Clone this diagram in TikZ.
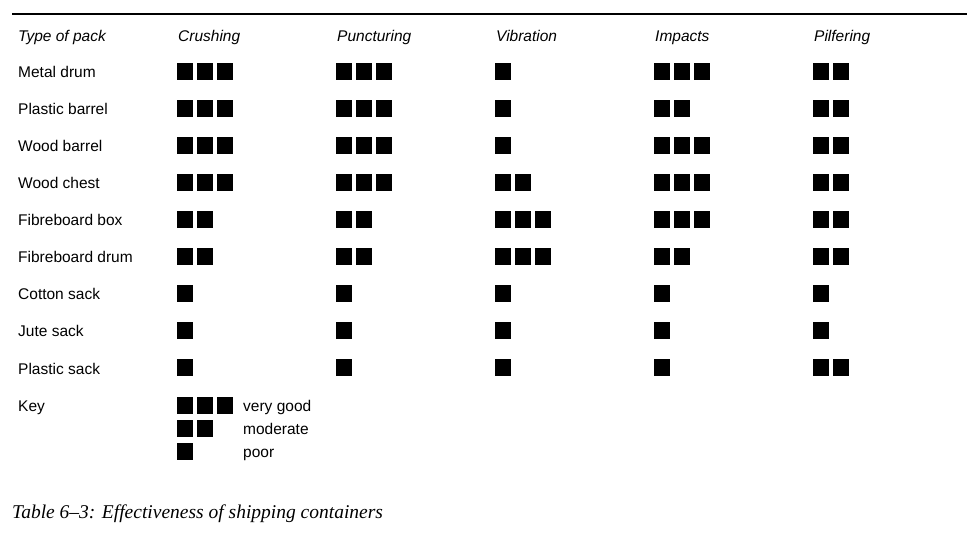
\documentclass[tikz,border=0pt]{standalone}
\usepackage{fontspec}
\setmainfont{Liberation Sans}
\newfontfamily\capfont{Liberation Serif}

\tikzset{
  txt/.style={anchor=base west,inner sep=0pt,font=\fontsize{15.5}{18}\selectfont},
  head/.style={txt,font=\fontsize{15.5}{18}\selectfont\itshape},
  blk/.style={fill=black}
}

\begin{document}
\begin{tikzpicture}[x=1pt,y=-1pt]
				\useasboundingbox (0,0) rectangle (972,537);
				\draw[line width=1.2pt] (12,14)--(967,14);
				
				% header
				\node[head] (hpack) at (18,42) {Type of pack};
				\foreach \t [count=\i from 0] in {Crushing,Puncturing,Vibration,Impacts,Pilfering}
					\node[head] (h\i) at (178+159*\i,42) {\t};
				
				% rows: name / crushing / puncturing / vibration / impacts / pilfering
				\foreach \n/\a/\b/\c/\d/\e [count=\r from 0] in {Metal drum/3/3/1/3/2,Plastic barrel/3/3/1/2/2,Wood barrel/3/3/1/3/2,Wood chest/3/3/2/3/2,Fibreboard box/2/2/3/3/2,Fibreboard drum/2/2/3/2/2,Cotton sack/1/1/1/1/1,Jute sack/1/1/1/1/1,Plastic sack/1/1/1/1/2}{
					\node[txt] (row\r) at (18,78+37*\r) {\n};
					\foreach \v [count=\k from 0] in {\a,\b,\c,\d,\e}
						\foreach \s in {1,...,\v}
							\fill[blk] (157+159*\k+20*\s,63+37*\r) rectangle ++(16,17);
				}
				
				% key
				\node[txt] (key) at (18,411) {Key};
				\foreach \v/\l/\y [count=\j from 0] in {3/very good/397,2/moderate/420,1/poor/443}{
					\foreach \s in {1,...,\v}
						\fill[blk] (157+20*\s,\y) rectangle ++(16,17);
					\node[txt] (lab\j) at (243,\y+14) {\l};
				}
				
				\node[anchor=base west,inner sep=0pt,font={\capfont\itshape\fontsize{19.5}{22}\selectfont}] (cap) at (12,518) {Table 6–3: Effectiveness of shipping containers};
			\end{tikzpicture}
\end{document}
